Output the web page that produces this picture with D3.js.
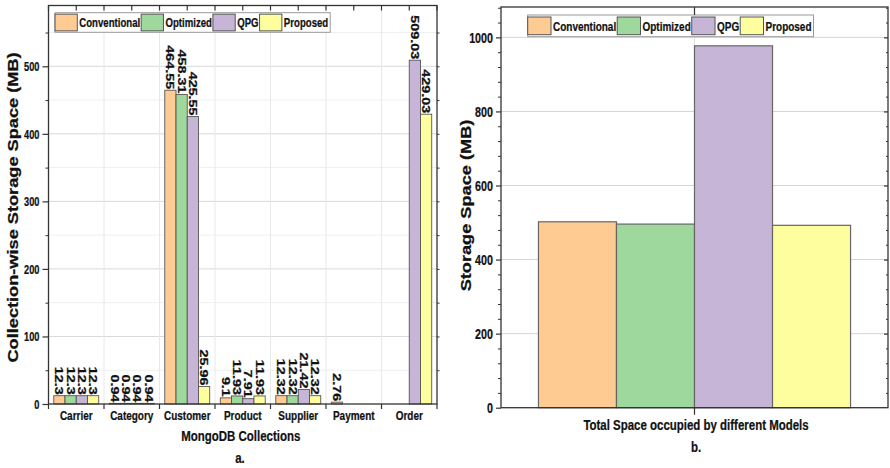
<!DOCTYPE html>
<html>
<head>
<meta charset="utf-8">
<script src="https://cdn.jsdelivr.net/npm/d3@7"></script>
<style>
  body { margin: 0; background: #fff; }
  svg { display: block; }
  text { font-family: "Liberation Sans", Arial, sans-serif; font-weight: bold; fill: #111; stroke: #111; stroke-width: 0.25px; }
</style>
</head>
<body>
<div id="chart"></div>
<script>
// data
const collections = ["Carrier", "Category", "Customer", "Product", "Supplier", "Payment", "Order"];
const models = ["Conventional", "Optimized", "QPG", "Proposed"];
const conventional = [12.3, 0.94, 464.55, 9.1, 12.32, 2.76, null];
const optimized = [12.3, 0.94, 458.31, 11.93, 12.32, null, null];
const qpg = [12.3, 0.94, 425.55, 7.91, 21.42, null, 509.03];
const proposed = [12.3, 0.94, 25.96, 11.93, 12.32, null, 429.03];
const totals = [501.97, 495.8, 977.15, 492.48];
const colors = ["#fecc92", "#9ed89c", "#c6b5d7", "#fefe9e"];
const leftTicks = [0, 100, 200, 300, 400, 500];
const rightTicks = [0, 200, 400, 600, 800, 1000];

const FRAME_WIDTH = 890;
const FRAME_HEIGHT = 468;
// the original figure is stretched vertically, so text looks narrow
const SX = 0.74;
const STRETCH = 1.3;

const svg = d3.select("#chart").append("svg")
  .attr("width", FRAME_WIDTH)
  .attr("height", FRAME_HEIGHT);

function flatText(parent, x, y, str, size, anchor) {
  return parent.append("text")
    .attr("transform", `translate(${x},${y}) scale(${SX},1)`)
    .attr("text-anchor", anchor || "middle")
    .style("font-size", size + "px")
    .text(str);
}

function upText(parent, x, y, str, size) {
  return parent.append("text")
    .attr("transform", `translate(${x},${y}) rotate(-90) scale(${STRETCH},1)`)
    .attr("text-anchor", "middle")
    .attr("dominant-baseline", "central")
    .style("font-size", size + "px")
    .text(str);
}

function legend(parent, x, y, sw, sh, boxH, size) {
  const g = parent.append("g");
  const box = g.append("rect")
    .attr("x", x).attr("y", y).attr("height", boxH)
    .attr("fill", "#fff").attr("stroke", "#999").attr("stroke-width", 1);
  let cx = x;
  models.forEach((m, i) => {
    g.append("rect")
      .attr("x", cx).attr("y", y + (boxH - sh) / 2)
      .attr("width", sw).attr("height", sh)
      .attr("fill", colors[i]).attr("stroke", "#555").attr("stroke-width", 1);
    const t = flatText(g, cx + sw + 2, y + boxH / 2 + size * 0.36, m, size, "start");
    cx += sw + 2 + t.node().getComputedTextLength() * SX + 1;
  });
  box.attr("width", cx - x + 1);
}

// ---------- chart a: collection-wise ----------
const A = {left: 48.5, right: 437, top: 5.5, bottom: 404};
const xA = d3.scaleBand().domain(collections).range([A.left, A.right]);
const xA1 = d3.scaleBand().domain(models).range([0, xA.bandwidth()]).paddingOuter(0.47);
const yA = d3.scaleLinear().domain([0, 590]).range([A.bottom, A.top]);
const gA = svg.append("g");

// grid
gA.append("g").selectAll("line").data(d3.range(50, 590, 100)).join("line")
  .attr("x1", A.left).attr("x2", A.right)
  .attr("y1", d => yA(d)).attr("y2", d => yA(d))
  .attr("stroke", "#efefef");
gA.append("g").selectAll("line").data(leftTicks.slice(1)).join("line")
  .attr("x1", A.left).attr("x2", A.right)
  .attr("y1", d => yA(d)).attr("y2", d => yA(d))
  .attr("stroke", "#d9d9d9");
gA.append("g").selectAll("line").data(collections.slice(1)).join("line")
  .attr("x1", d => xA(d)).attr("x2", d => xA(d))
  .attr("y1", A.top).attr("y2", A.bottom)
  .attr("stroke", "#e8e8e8");

// bars and value labels
[conventional, optimized, qpg, proposed].forEach((vals, i) => {
  const m = models[i];
  const pts = collections.map((c, j) => ({c: c, v: vals[j]})).filter(d => d.v !== null);
  gA.append("g").selectAll("rect").data(pts).join("rect")
    .attr("x", d => xA(d.c) + xA1(m))
    .attr("y", d => yA(d.v))
    .attr("width", xA1.bandwidth())
    .attr("height", d => yA(0) - yA(d.v))
    .attr("fill", colors[i])
    .attr("stroke", "#555")
    .attr("stroke-width", 0.9);
  gA.append("g").selectAll("text").data(pts).join("text")
    .attr("transform", d => `translate(${xA(d.c) + xA1(m) + xA1.bandwidth() / 2},${yA(d.v) - 1}) rotate(90) scale(1.25,1)`)
    .attr("text-anchor", "end")
    .attr("dominant-baseline", "central")
    .style("font-size", "11.5px")
    .text(d => d.v);
});

legend(gA, 55, 12.7, 22.3, 16.7, 19.6, 13);

// frame
gA.append("rect")
  .attr("x", A.left).attr("y", A.top)
  .attr("width", A.right - A.left).attr("height", A.bottom - A.top)
  .attr("fill", "none").attr("stroke", "#333").attr("stroke-width", 1.3);

// left axis
const axA = gA.append("g").attr("transform", `translate(${A.left},0)`)
  .call(d3.axisLeft(yA).tickValues(leftTicks).tickSize(6).tickSizeOuter(0));
axA.select(".domain").remove();
axA.selectAll(".tick line").attr("stroke", "#333").attr("stroke-width", 1.2);
axA.selectAll(".tick text")
  .attr("x", -9 / SX).attr("dy", "0.36em")
  .attr("transform", `scale(${SX},1)`)
  .style("font-size", "12.5px");
const axAm = gA.append("g").attr("transform", `translate(${A.left},0)`)
  .call(d3.axisLeft(yA).tickValues(d3.range(50, 590, 100)).tickSize(3).tickFormat(""));
axAm.select(".domain").remove();
axAm.selectAll(".tick line").attr("stroke", "#333");

// right axis small ticks
const axAr = gA.append("g").attr("transform", `translate(${A.right},0)`)
  .call(d3.axisRight(yA).tickValues(d3.range(50, 590, 50)).tickSize(2.5).tickFormat(""));
axAr.select(".domain").remove();
axAr.selectAll(".tick line").attr("stroke", "#333");

// bottom axis
const axAb = gA.append("g").attr("transform", `translate(0,${A.bottom})`)
  .call(d3.axisBottom(xA).tickSize(0));
axAb.select(".domain").remove();
axAb.selectAll(".tick text")
  .attr("y", 16.5).attr("dy", 0)
  .attr("transform", `scale(${SX},1)`)
  .style("font-size", "13.5px");
const bounds = collections.map(c => xA(c)).concat([A.right]);
gA.append("g").selectAll("line").data(bounds).join("line")
  .attr("x1", d => d).attr("x2", d => d)
  .attr("y1", A.bottom).attr("y2", A.bottom + 5)
  .attr("stroke", "#333").attr("stroke-width", 1.2);
const topTicks = bounds.concat(collections.map(c => xA(c) + xA.bandwidth() / 2));
gA.append("g").selectAll("line").data(topTicks).join("line")
  .attr("x1", d => d).attr("x2", d => d)
  .attr("y1", A.top).attr("y2", A.top + 5)
  .attr("stroke", "#333").attr("stroke-width", 1.2);

flatText(gA, (A.left + A.right) / 2 - 2, 441, "MongoDB Collections", 15.5);
flatText(gA, 240, 463, "a.", 15.5);
upText(gA, 13, 207.5, "Collection-wise Storage Space (MB)", 14);

// ---------- chart b: totals ----------
const B = {left: 501, right: 888, top: 7, bottom: 407.7};
const xB = d3.scaleBand().domain(models).range([B.left, B.right]).paddingOuter(0.48);
const yB = d3.scaleLinear().domain([0, 1082]).range([B.bottom, B.top]);
const gB = svg.append("g");
const midB = (B.left + B.right) / 2;

gB.append("g").selectAll("line").data(rightTicks.slice(1)).join("line")
  .attr("x1", B.left).attr("x2", B.right)
  .attr("y1", d => yB(d)).attr("y2", d => yB(d))
  .attr("stroke", "#d4d4d4");
gB.append("line")
  .attr("x1", midB).attr("x2", midB).attr("y1", B.top).attr("y2", B.bottom)
  .attr("stroke", "#e0e0e0");

gB.append("g").selectAll("rect").data(totals).join("rect")
  .attr("x", (d, i) => xB(models[i]))
  .attr("y", d => yB(d))
  .attr("width", xB.bandwidth())
  .attr("height", d => yB(0) - yB(d))
  .attr("fill", (d, i) => colors[i])
  .attr("stroke", "#666")
  .attr("stroke-width", 1.2);

legend(gB, 527.7, 15, 23.3, 17.7, 21.7, 13.5);

gB.append("rect")
  .attr("x", B.left).attr("y", B.top)
  .attr("width", B.right - B.left).attr("height", B.bottom - B.top)
  .attr("fill", "none").attr("stroke", "#333").attr("stroke-width", 1.3);

const axB = gB.append("g").attr("transform", `translate(${B.left},0)`)
  .call(d3.axisLeft(yB).tickValues(rightTicks).tickSize(5).tickSizeOuter(0).tickFormat(d3.format("d")));
axB.select(".domain").remove();
axB.selectAll(".tick line").attr("stroke", "#333").attr("stroke-width", 1.2);
axB.selectAll(".tick text")
  .attr("x", -8 / SX).attr("dy", "0.36em")
  .attr("transform", `scale(${SX},1)`)
  .style("font-size", "14.5px");
const minorB = d3.range(40, 1082, 40).filter(v => v % 200 !== 0);
const axBm = gB.append("g").attr("transform", `translate(${B.left},0)`)
  .call(d3.axisLeft(yB).tickValues(minorB).tickSize(3).tickFormat(""));
axBm.select(".domain").remove();
axBm.selectAll(".tick line").attr("stroke", "#333");

const axBr = gB.append("g").attr("transform", `translate(${B.right},0)`)
  .call(d3.axisLeft(yB).tickValues(rightTicks.slice(1)).tickSize(4).tickFormat(""));
axBr.select(".domain").remove();
axBr.selectAll(".tick line").attr("stroke", "#333").attr("stroke-width", 1.2);
const axBrm = gB.append("g").attr("transform", `translate(${B.right},0)`)
  .call(d3.axisLeft(yB).tickValues(minorB).tickSize(2).tickFormat(""));
axBrm.select(".domain").remove();
axBrm.selectAll(".tick line").attr("stroke", "#333");

gB.append("line").attr("x1", midB).attr("x2", midB)
  .attr("y1", B.top).attr("y2", B.top + 8).attr("stroke", "#333").attr("stroke-width", 1.2);
gB.append("line").attr("x1", midB).attr("x2", midB)
  .attr("y1", B.bottom).attr("y2", B.bottom + 7).attr("stroke", "#333").attr("stroke-width", 1.2);

flatText(gB, 696, 430, "Total Space occupied by different Models", 15.5);
flatText(gB, 696, 452, "b.", 15.5);
upText(gB, 466, 205.5, "Storage Space (MB)", 14);
</script>
</body>
</html>
